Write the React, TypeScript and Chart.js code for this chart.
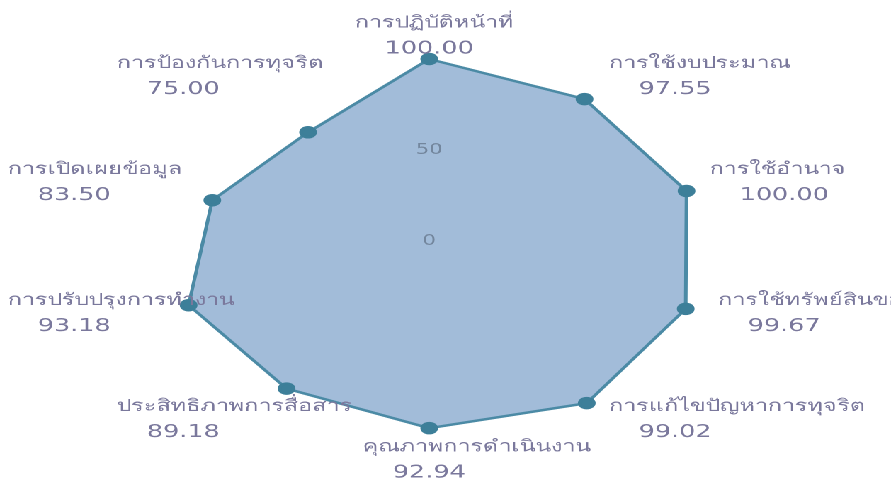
import React, { useEffect, useRef } from 'react';
import { Chart, registerables } from 'chart.js';

Chart.register(...registerables);

// ---- data ----
const categories: string[] = [
  'การปฏิบัติหน้าที่',
  'การใช้งบประมาณ',
  'การใช้อำนาจ',
  'การใช้ทรัพย์สินของราชการ',
  'การแก้ไขปัญหาการทุจริต',
  'คุณภาพการดำเนินงาน',
  'ประสิทธิภาพการสื่อสาร',
  'การปรับปรุงการทำงาน',
  'การเปิดเผยข้อมูล',
  'การป้องกันการทุจริต',
];
const scores: number[] = [100.0, 97.55, 100.0, 99.67, 99.02, 92.94, 89.18, 93.18, 83.5, 75.0];
const tickLabels: number[] = [0, 50];
const scaleMin = -5;
const scaleMax = 100;
const tickStep = 50;

// ---- style ----
const FONT = "'DejaVu Sans', 'Noto Sans', sans-serif";
const LABEL_COLOR = '#7a789c';
const TICK_COLOR = '#a3968a';
const CANVAS_W = 629;
const CANVAS_H = 482;
const STRETCH_X = 891 / CANVAS_W;

const labelPlugin = {
  id: 'axisLabels',
  afterDatasetsDraw(chart: any) {
    const scale = chart.scales.r;
    const ctx: CanvasRenderingContext2D = chart.ctx;
    ctx.save();
    ctx.fillStyle = LABEL_COLOR;
    ctx.textBaseline = 'middle';
    ctx.textAlign = 'left';
    categories.forEach((name, i) => {
      const p = scale.getPointPosition(i, scale.drawingArea);
      const dx = Math.cos(p.angle);
      const dy = Math.sin(p.angle);
      const side = Math.abs(dx) < 1e-3 ? 0 : Math.sign(dx);
      const valueText = scores[i].toFixed(2);
      ctx.font = `18px ${FONT}`;
      const w2 = ctx.measureText(valueText).width;
      const cx2 = p.x + side * (49 + 21 * Math.abs(dx));
      const y2 = p.y + 11 + 21 * dy;
      const left2 = cx2 - w2 / 2;
      ctx.fillText(valueText, left2, y2);
      ctx.font = `16.5px ${FONT}`;
      ctx.fillText(name, left2 - 21, y2 - 26);
    });
    ctx.restore();
  },
};

export default function App() {
  const canvasRef = useRef<HTMLCanvasElement | null>(null);

  useEffect(() => {
    if (!canvasRef.current) return;
    const chart = new Chart(canvasRef.current, {
      type: 'radar',
      data: {
        labels: categories,
        datasets: [
          {
            data: scores,
            backgroundColor: 'rgba(66,118,178,0.49)',
            borderColor: '#4b8aa5',
            borderWidth: 2.5,
            pointBackgroundColor: '#3d7f99',
            pointBorderColor: '#3d7f99',
            pointRadius: 5,
            fill: 'start',
          },
        ],
      },
      options: {
        animation: false,
        responsive: true,
        maintainAspectRatio: false,
        devicePixelRatio: 2,
        layout: { padding: { top: 51, bottom: 33, left: 0, right: 22 } },
        plugins: {
          legend: { display: false },
          tooltip: { enabled: false },
        },
        scales: {
          r: {
            min: scaleMin,
            max: scaleMax,
            z: 1,
            angleLines: { display: false },
            grid: { display: false },
            pointLabels: { display: false },
            ticks: {
              stepSize: tickStep,
              color: TICK_COLOR,
              showLabelBackdrop: false,
              backdropPadding: 0,
              font: { family: FONT, size: 15 },
              callback: (v: any) => (tickLabels.includes(Number(v)) ? String(v) : ''),
            },
          },
        },
      },
      plugins: [labelPlugin],
    });
    return () => chart.destroy();
  }, []);

  return (
    <div
      style={{
        position: 'absolute',
        left: 0,
        top: 0,
        width: CANVAS_W,
        height: CANVAS_H,
        background: '#ffffff',
        transform: `scaleX(${STRETCH_X})`,
        transformOrigin: '0 0',
        overflow: 'hidden',
      }}
    >
      <canvas ref={canvasRef} />
    </div>
  );
}
